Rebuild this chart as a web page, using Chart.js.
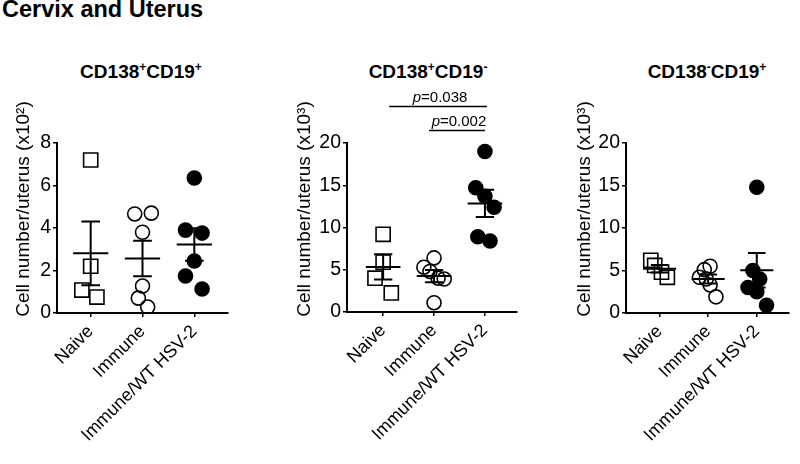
<!DOCTYPE html>
<html><head><meta charset="utf-8">
<script src="https://cdn.jsdelivr.net/npm/chart.js@4"></script>
<style>
html,body{margin:0;padding:0;background:#fff;}
body{width:800px;height:464px;position:relative;overflow:hidden;font-family:"Liberation Sans",Arial,sans-serif;color:#000;}
.title{position:absolute;left:2px;top:-4px;font-weight:bold;font-size:23.5px;white-space:nowrap;}
.ptitle{position:absolute;font-weight:bold;font-size:19px;transform:translateX(-50%);white-space:nowrap;top:61px;}
.ptitle .s{font-size:12px;position:relative;top:-7px;}
canvas{position:absolute;top:0;}
</style></head>
<body>
<div class="title">Cervix and Uterus</div>
<div class="ptitle" style="left:141px">CD138<span class="s">+</span>CD19<span class="s">+</span></div>
<div class="ptitle" style="left:428px">CD138<span class="s">+</span>CD19<span class="s">-</span></div>
<div class="ptitle" style="left:707px">CD138<span class="s">-</span>CD19<span class="s">+</span></div>
<script>
// ---- data ----
const groups = ['Naive', 'Immune', 'Immune/WT HSV-2'];

// Panel 1: CD138+CD19+ (x10^2)
const p1Naive = [7.2, 2.2, 1.08, 0.75];
const p1Immune = [4.66, 4.7, 3.8, 1.27, 0.7, 0.28];
const p1WT = [6.35, 3.9, 3.76, 2.45, 1.74, 1.13];
const p1NaiveX = [0, 0, -0.17, 0.12];
const p1ImmuneX = [-0.15, 0.17, 0, 0, -0.08, 0.1];
const p1WTX = [0, -0.17, 0.15, 0, -0.17, 0.15];

// Panel 2: CD138+CD19- (x10^3)
const p2Naive = [9.2, 5.9, 4.0, 2.25];
const p2Immune = [6.4, 5.3, 4.8, 4.0, 3.9, 1.1];
const p2WT = [19.0, 14.7, 13.7, 12.4, 8.9, 8.4];
const p2NaiveX = [0, 0, -0.16, 0.16];
const p2ImmuneX = [0, -0.2, -0.08, 0.08, 0.2, 0];
const p2WTX = [0, -0.18, 0, 0.18, -0.14, 0.1];

// Panel 3: CD138-CD19+ (x10^3)
const p3Naive = [6.2, 5.6, 4.8, 4.2];
const p3Immune = [5.5, 5.1, 4.2, 4.0, 3.3, 1.9];
const p3WT = [14.8, 5.0, 4.0, 3.0, 2.5, 0.9];
const p3NaiveX = [-0.18, -0.1, 0.04, 0.16];
const p3ImmuneX = [0.04, -0.08, -0.18, -0.04, 0.04, 0.16];
const p3WTX = [0, -0.08, 0.06, -0.18, 0, 0.2];

const yTitles = ['Cell number/uterus (x10²)', 'Cell number/uterus (x10³)', 'Cell number/uterus (x10³)'];
const yMaxes = [8, 20, 20];
const ySteps = [2, 5, 5];

// significance brackets (panel 2)
const brFrom = [0, 1];
const brTo = [2, 2];
const brP = ['0.038', '0.002'];

// ---- drawing ----
const FONT = '"Liberation Sans", Arial, sans-serif';
const H = 464;

function mean(a){return a.reduce((s,v)=>s+v,0)/a.length;}
function sem(a){const m=mean(a);const v=a.reduce((s,x)=>s+(x-m)*(x-m),0)/(a.length-1);return Math.sqrt(v/a.length);}

const yTitlePlugin = {
  id:'yTitleP',
  afterDraw(chart, args, opts){
    const ctx = chart.ctx;
    ctx.save();
    ctx.translate(opts.x, opts.y);
    ctx.rotate(-Math.PI/2);
    ctx.font = '19px ' + FONT;
    ctx.fillStyle = '#000';
    ctx.textAlign = 'center';
    ctx.textBaseline = 'middle';
    ctx.fillText(opts.text, 0, 0);
    ctx.restore();
  }
};

const bracketPlugin = {
  id:'brackets',
  afterDraw(chart, args, opts){
    if (!opts.show) return;
    const ctx = chart.ctx, xs = chart.scales.x, ys = chart.scales.y;
    const levels = [24.4, 21.5];
    const off1 = [6, -5], off2 = [2, 0];
    ctx.save();
    ctx.strokeStyle = '#000'; ctx.lineWidth = 1.5; ctx.fillStyle = '#000';
    for (let i=0;i<brFrom.length;i++){
      const x1 = xs.getPixelForValue(brFrom[i]) + off1[i];
      const x2 = xs.getPixelForValue(brTo[i]) + off2[i];
      const y = Math.round(ys.getPixelForValue(levels[i])) + 0.5;
      ctx.beginPath(); ctx.moveTo(x1, y); ctx.lineTo(x2, y); ctx.stroke();
      const fi = 'italic 15px ' + FONT, fr = '15px ' + FONT;
      ctx.font = fi; const w1 = ctx.measureText('p').width;
      const rest = '=' + brP[i];
      ctx.font = fr; const w2 = ctx.measureText(rest).width;
      const cx = (x1 + x2)/2 + 2;
      const sx = cx - (w1+w2)/2;
      ctx.textBaseline = 'alphabetic'; ctx.textAlign = 'left';
      ctx.font = fi; ctx.fillText('p', sx, y - 5);
      ctx.font = fr; ctx.fillText(rest, sx + w1, y - 5);
    }
    ctx.restore();
  }
};

function makePanel(cfg){
  const canvas = document.createElement('canvas');
  canvas.style.left = cfg.left + 'px';
  canvas.style.width = cfg.w + 'px';
  canvas.style.height = H + 'px';
  canvas.width = cfg.w; canvas.height = H;
  document.body.appendChild(canvas);

  const styles = [
    {ps:'rect', r:10, bg:'rgba(0,0,0,0)'},
    {ps:'circle', r:7, bg:'rgba(0,0,0,0)'},
    {ps:'circle', r:7, bg:'#000'}
  ];
  const datasets = [];
  cfg.values.forEach((vals, g) => {
    const st = styles[g];
    datasets.push({
      type:'scatter',
      data: vals.map((v,i)=>({x: g + cfg.jitter[g][i], y: v})),
      pointStyle: st.ps, pointRadius: st.r, pointHoverRadius: st.r,
      pointBackgroundColor: st.bg, pointBorderColor:'#000', pointBorderWidth:1.6,
      showLine:false, order:2
    });
    const m = mean(vals), s = sem(vals);
    datasets.push({
      type:'line',
      data:[
        {x:g-0.34,y:m},{x:g+0.34,y:m},{x:g,y:null},
        {x:g,y:m+s},{x:g,y:m-s},{x:g,y:null},
        {x:g-0.18,y:m+s},{x:g+0.18,y:m+s},{x:g,y:null},
        {x:g-0.18,y:m-s},{x:g+0.18,y:m-s}
      ],
      borderColor:'#000', borderWidth:2, pointRadius:0, pointHoverRadius:0,
      spanGaps:false, fill:false, tension:0, order:1, clip:false
    });
  });

  const gridOpts = {display:true, drawOnChartArea:false, drawTicks:true, tickLength:4, color:'#000', lineWidth:1.5};
  new Chart(canvas, {
    type:'scatter',
    data:{datasets},
    options:{
      responsive:false, animation:false, devicePixelRatio:1,
      events:[],
      layout:{padding:{left:0, top:cfg.top, right:cfg.w - cfg.right, bottom:0}},
      plugins:{
        legend:{display:false}, tooltip:{enabled:false}, title:{display:false},
        yTitleP:{text:cfg.yTitle, x:cfg.titleX, y:209},
        brackets:{show:!!cfg.brackets}
      },
      scales:{
        x:{
          type:'linear', min:cfg.xmin, max:cfg.xmax,
          afterBuildTicks: s => { s.ticks = [0,1,2].map(v=>({value:v})); },
          afterFit: s => { s.height = H - cfg.bottom; },
          grid:gridOpts,
          border:{display:true, color:'#000', width:2},
          ticks:{autoSkip:false, minRotation:45, maxRotation:45, padding:4, color:'#000',
                 font:{family:FONT, size:18}, callback: v => groups[v]}
        },
        y:{
          type:'linear', min:0, max:cfg.ymax,
          afterFit: s => { s.width = cfg.chartLeft; },
          grid:gridOpts,
          border:{display:true, color:'#000', width:2},
          ticks:{stepSize:cfg.step, padding:2, color:'#000', font:{family:FONT, size:19.5}}
        }
      }
    },
    plugins:[yTitlePlugin, bracketPlugin]
  });
}

makePanel({left:0, w:270, chartLeft:57, right:228, top:143, bottom:313, xmin:-0.65, xmax:2.65,
  ymax:yMaxes[0], step:ySteps[0], yTitle:yTitles[0], titleX:24,
  values:[p1Naive, p1Immune, p1WT], jitter:[p1NaiveX, p1ImmuneX, p1WTX]});
makePanel({left:270, w:270, chartLeft:77, right:247, top:143, bottom:312, xmin:-0.71, xmax:2.63,
  ymax:yMaxes[1], step:ySteps[1], yTitle:yTitles[1], titleX:35, brackets:true,
  values:[p2Naive, p2Immune, p2WT], jitter:[p2NaiveX, p2ImmuneX, p2WTX]});
makePanel({left:540, w:260, chartLeft:86, right:255, top:143, bottom:313, xmin:-0.69, xmax:2.65,
  ymax:yMaxes[2], step:ySteps[2], yTitle:yTitles[2], titleX:45,
  values:[p3Naive, p3Immune, p3WT], jitter:[p3NaiveX, p3ImmuneX, p3WTX]});
</script>
</body></html>
